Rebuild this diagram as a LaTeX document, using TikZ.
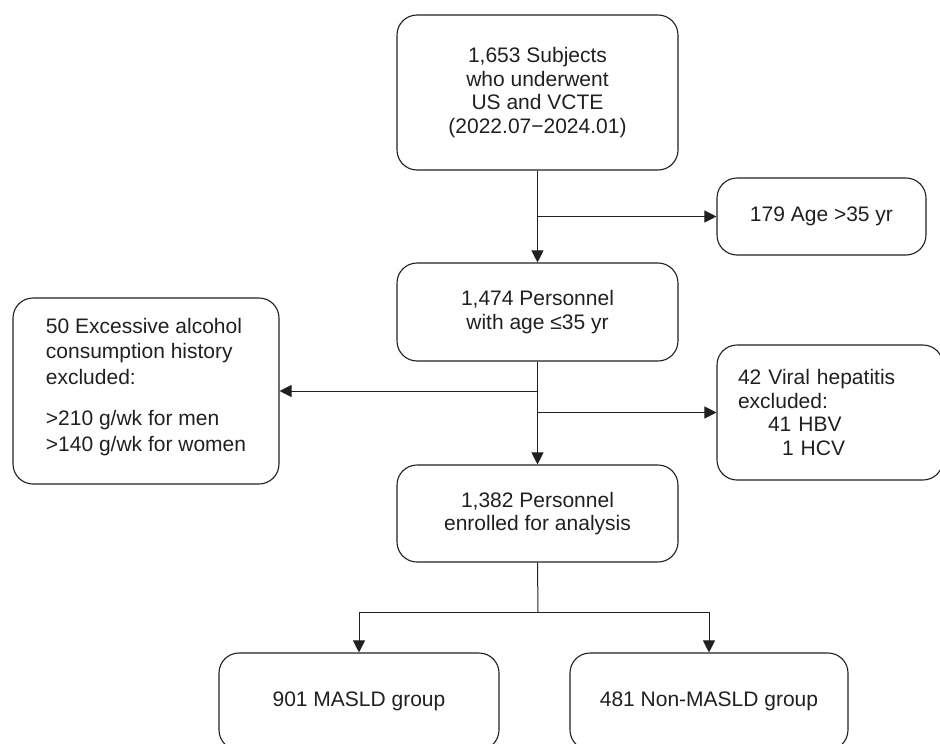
\documentclass[tikz,border=0pt]{standalone}
\usepackage{fontspec}
\setmainfont{Liberation Sans}
\usetikzlibrary{arrows.meta,calc}
\definecolor{ink}{HTML}{231F20}
\tikzset{
  box/.style={draw=ink, text=ink, line width=1.1pt, rounded corners=20pt,
    inner sep=0pt, align=center,
    font=\fontsize{21}{23.6}\selectfont},
  conn/.style={draw=ink, line width=1pt},
  arr/.style={conn, -{Triangle[length=12pt,width=12pt]}}
}
\begin{document}
\begin{tikzpicture}[x=1pt,y=-1pt]
\useasboundingbox (0,0) rectangle (940,744);
\node[box, minimum width=281pt, minimum height=155pt] (top) at (537.5,92.5)
  {1,653 Subjects\\who underwent\\US and VCTE\\(2022.07−2024.01)};
\node[box, minimum width=209pt, minimum height=77pt] (age) at (821.5,216.5)
  {179 Age >35 yr};
\node[box, minimum width=281pt, minimum height=98pt] (p1474) at (537.5,312)
  {1,474 Personnel\\with age ≤35 yr};
\node[box, minimum width=266pt, minimum height=186pt, align=left,
  font=\fontsize{21}{25.8}\selectfont] (alc) at (146,391)
  {50 Excessive alcohol\\consumption history\\excluded:\\[15pt]>210 g/wk for men\\>140 g/wk for women\\[-13pt]\mbox{}};
\node[box, minimum width=226pt, minimum height=135pt, align=left,
  text width=184pt] (viral) at (830,412.5)
  {42 Viral hepatitis\\excluded:\\\hspace*{30pt}41 HBV\\\hspace*{44pt}1 HCV};
\node[box, minimum width=281pt, minimum height=97pt] (p1382) at (537.5,513.5)
  {1,382 Personnel\\enrolled for analysis};
\node[box, minimum width=280pt, minimum height=97pt] (masld) at (359,701.5)
  {901 MASLD group};
\node[box, minimum width=278pt, minimum height=97pt] (non) at (709,701.5)
  {481 Non-MASLD group};
\coordinate (fork) at (538,612);
\draw[arr] (top.south) -- (p1474.north);
\draw[arr] (top.south |- age.west) -- (age.west);
\draw[arr] (p1474.south) -- (p1382.north);
\draw[arr] (p1474.south |- alc.east) -- (alc.east);
\draw[arr] (p1474.south |- viral.west) -- (viral.west);
\draw[conn] (p1382.south) -- (fork);
\draw[arr] (fork) -| (masld.north);
\draw[arr] (fork) -| (non.north);
\end{tikzpicture}
\end{document}
